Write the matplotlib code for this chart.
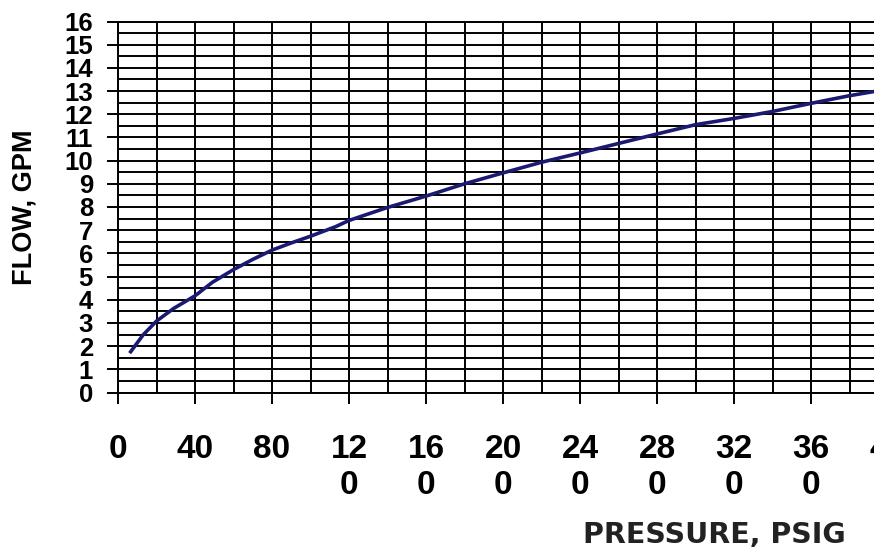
import matplotlib.pyplot as plt
import numpy as np

# readings
pressure = [6.6, 13, 20, 29, 40, 49, 60, 70, 80, 90, 100, 113, 120, 140, 160,
            180, 200, 220, 240, 260, 280, 300, 320, 340, 360, 380, 392]
flow = [1.76, 2.48, 3.08, 3.63, 4.17, 4.75, 5.3, 5.74, 6.14, 6.45, 6.74, 7.15,
        7.42, 7.98, 8.47, 9.0, 9.47, 9.93, 10.33, 10.74, 11.15, 11.55, 11.82,
        12.12, 12.47, 12.8, 12.97]

x_ticks = [0, 40, 80, 120, 160, 200, 240, 280, 320, 360, 400]
x_labels = ['0', '40', '80', '12\n0', '16\n0', '20\n0', '24\n0', '28\n0',
            '32\n0', '36\n0', '40\n0']
y_ticks = list(range(0, 17))

W, H = 874, 552
fig = plt.figure(figsize=(W / 100, H / 100), dpi=100)
# plot area runs off the right edge, like the original screenshot
ax = fig.add_axes([118 / W, (H - 392.5) / H, (888 - 118) / W, 371 / H])

ax.plot(pressure, flow, color='#1a1a72', lw=2.6, zorder=3)

ax.set_xlim(0, 400)
ax.set_ylim(0, 16)
ax.set_xticks(x_ticks)
ax.set_xticklabels(x_labels, fontsize=24, fontweight='bold',
                   family='Liberation Sans', linespacing=1.2)
ax.set_xticks(np.arange(0, 401, 20), minor=True)
ax.set_yticks(y_ticks)
ax.set_yticklabels([str(v) for v in y_ticks], fontsize=18.5, fontweight='bold',
                   family='Liberation Sans')
ax.set_yticks(np.arange(0, 16.01, 0.5), minor=True)

ax.grid(True, which='both', color='black', lw=1.4)
ax.tick_params(axis='x', which='major', direction='out', length=8, width=1.4,
               pad=22, colors='black')
ax.tick_params(axis='y', which='major', direction='out', length=8, width=1.4,
               pad=10, colors='black')
ax.tick_params(which='minor', length=0)
for s in ax.spines.values():
    s.set_color('black')
    s.set_linewidth(1.4)
ax.set_axisbelow(True)

fig.text(25 / W, 1 - 207 / H, 'FLOW, GPM', rotation=90, fontsize=19.5,
         fontweight='bold', family='Liberation Sans', ha='center', va='center')
fig.text(714 / W, 1 - 535 / H, 'PRESSURE, PSIG', fontsize=20.5,
         fontweight='bold', family='DejaVu Sans', color='#222222',
         ha='center', va='center')

fig.savefig('out.png', dpi=100)
